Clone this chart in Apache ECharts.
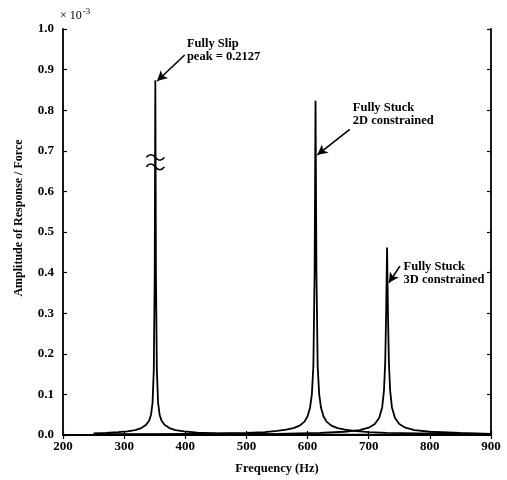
<!DOCTYPE html>
<html>
<head>
<meta charset="utf-8">
<script src="https://cdn.jsdelivr.net/npm/echarts@6/dist/echarts.min.js"></script>
<style>
  html, body { margin: 0; padding: 0; background: #fff; }
  #main { width: 507px; height: 480px; }
</style>
</head>
<body>
<div id="main"></div>
<script>
// frequency (Hz) / amplitude (x 1e-3)
const slipFreq = [250, 270, 290, 305, 318, 328, 336, 341, 344, 346.5, 348.5, 350, 351, 352, 353.5, 355.5, 358, 361, 366, 374, 384, 398, 420, 450, 500, 560, 650, 750, 900];
const slipAmp = [0.004, 0.005, 0.007, 0.009, 0.012, 0.017, 0.025, 0.036, 0.05, 0.08, 0.16, 0.4, 0.874, 0.4, 0.16, 0.08, 0.05, 0.036, 0.025, 0.017, 0.012, 0.009, 0.006, 0.004, 0.003, 0.002, 0.001, 0.001, 0.001];

const stuck2Freq = [250, 300, 350, 400, 450, 500, 530, 550, 565, 577, 587, 595, 600, 604, 607, 609.5, 611.5, 613, 614.5, 616.5, 619, 622, 626, 631, 639, 649, 661, 676, 700, 730, 780, 850, 900];
const stuck2Amp = [0.002, 0.002, 0.002, 0.003, 0.004, 0.005, 0.007, 0.01, 0.013, 0.017, 0.023, 0.033, 0.046, 0.067, 0.1, 0.17, 0.4, 0.823, 0.4, 0.17, 0.1, 0.067, 0.046, 0.033, 0.023, 0.017, 0.013, 0.01, 0.007, 0.005, 0.004, 0.003, 0.002];

const stuck3Freq = [250, 350, 450, 550, 620, 660, 685, 700, 710, 717, 722, 725, 727, 728.5, 730, 731.5, 733, 735, 738, 743, 750, 760, 775, 800, 850, 900];
const stuck3Amp = [0.001, 0.001, 0.002, 0.003, 0.005, 0.008, 0.012, 0.018, 0.027, 0.042, 0.068, 0.11, 0.18, 0.3, 0.462, 0.3, 0.18, 0.11, 0.068, 0.042, 0.027, 0.018, 0.012, 0.008, 0.005, 0.003];

const xTicks = { min: 200, max: 900, step: 100 };
const yTicks = { min: 0, max: 1.0, step: 0.1 };

const FONT = '"Liberation Serif", "DejaVu Serif", serif';

function pairs(xs, ys) {
    return xs.map((x, i) => [x, ys[i]]);
}

const chart = echarts.init(document.getElementById('main'));

const lineStyle = { color: '#000', width: 1.8 };
const txt = { fontFamily: FONT, fontWeight: 'bold', fontSize: 12.5, color: '#000', lineHeight: 13 };

function noteLabel(text) {
    return Object.assign({
        show: true,
        position: 'inside',
        align: 'left',
        verticalAlign: 'top',
        formatter: text
    }, txt);
}

const option = {
    animation: false,
    backgroundColor: '#fff',
    grid: { left: 63, right: 16, top: 29, bottom: 42 },
    xAxis: [{
        type: 'value', min: xTicks.min, max: xTicks.max, interval: xTicks.step,
        axisLine: { lineStyle: { color: '#000', width: 1.8 } },
        axisTick: { inside: true, length: 4, lineStyle: { color: '#000', width: 1.2 } },
        axisLabel: { color: '#000', fontFamily: FONT, fontWeight: 'bold', fontSize: 13, margin: 5 },
        splitLine: { show: false },
        name: 'Frequency (Hz)', nameLocation: 'middle', nameGap: 27,
        nameTextStyle: { color: '#000', fontFamily: FONT, fontWeight: 'bold', fontSize: 12.5 }
    }, {
        type: 'value', position: 'top', min: xTicks.min, max: xTicks.max, interval: xTicks.step,
        axisLine: { lineStyle: { color: '#000', width: 1.8 } },
        axisTick: { inside: true, length: 4, lineStyle: { color: '#000', width: 1.2 } },
        axisLabel: { show: false },
        splitLine: { show: false }
    }],
    yAxis: [{
        type: 'value', min: yTicks.min, max: yTicks.max, interval: yTicks.step,
        axisLine: { show: true, lineStyle: { color: '#000', width: 1.8 } },
        axisTick: { show: true, inside: true, length: 4, lineStyle: { color: '#000', width: 1.2 } },
        axisLabel: { color: '#000', fontFamily: FONT, fontWeight: 'bold', fontSize: 13, margin: 9,
            formatter: v => v.toFixed(1) },
        splitLine: { show: false },
        name: 'Amplitude of Response / Force', nameLocation: 'middle', nameGap: 38,
        nameTextStyle: { color: '#000', fontFamily: FONT, fontWeight: 'bold', fontSize: 12, padding: [0, 0, 0, 28] }
    }, {
        type: 'value', position: 'right', min: yTicks.min, max: yTicks.max, interval: yTicks.step,
        axisLine: { show: true, lineStyle: { color: '#000', width: 1.8 } },
        axisTick: { show: true, inside: true, length: 4, lineStyle: { color: '#000', width: 1.2 } },
        axisLabel: { show: false },
        splitLine: { show: false }
    }],
    graphic: [{
        type: 'text', left: 60, top: 7,
        style: {
            text: '{a|× 10}{s|-3}',
            rich: {
                a: { fontFamily: FONT, fontSize: 12, fill: '#000', verticalAlign: 'bottom' },
                s: { fontFamily: FONT, fontSize: 9, fill: '#000', verticalAlign: 'top', padding: [0, 0, 6, 1] }
            }
        }
    }],
    series: [{
        name: 'Fully Slip', type: 'line', showSymbol: false, data: pairs(slipFreq, slipAmp),
        lineStyle: lineStyle, silent: true,
        markPoint: {
            silent: true,
            data: [{
                coord: [351, 0.672],
                symbol: 'path://M0,4 C3,0 7,0 10,4 C13,8 17,8 20,4 M0,14 C3,10 7,10 10,14 C13,18 17,18 20,14',
                symbolSize: [18, 15],
                itemStyle: { color: 'rgba(0,0,0,0)', borderColor: '#000', borderWidth: 1.6 },
                label: { show: false }
            }, {
                coord: [402.6, 0.978], symbolSize: 1,
                itemStyle: { color: 'rgba(0,0,0,0)' },
                label: noteLabel('Fully Slip\npeak = 0.2127')
            }, {
                coord: [674, 0.82], symbolSize: 1,
                itemStyle: { color: 'rgba(0,0,0,0)' },
                label: noteLabel('Fully Stuck\n2D constrained')
            }, {
                coord: [757, 0.43], symbolSize: 1,
                itemStyle: { color: 'rgba(0,0,0,0)' },
                label: noteLabel('Fully Stuck\n3D constrained')
            }]
        },
        markLine: {
            silent: true,
            symbol: ['none', 'arrow'],
            symbolSize: [8, 10],
            label: { show: false },
            lineStyle: { color: '#000', width: 1.6, type: 'solid' },
            data: [
                [{ coord: [399, 0.936] }, { coord: [354, 0.872] }],
                [{ coord: [669, 0.753] }, { coord: [616, 0.69] }],
                [{ coord: [751, 0.416] }, { coord: [733, 0.375] }]
            ]
        }
    }, {
        name: 'Fully Stuck 2D', type: 'line', showSymbol: false, data: pairs(stuck2Freq, stuck2Amp),
        lineStyle: lineStyle, silent: true
    }, {
        name: 'Fully Stuck 3D', type: 'line', showSymbol: false, data: pairs(stuck3Freq, stuck3Amp),
        lineStyle: lineStyle, silent: true
    }]
};

chart.setOption(option);
</script>
</body>
</html>
